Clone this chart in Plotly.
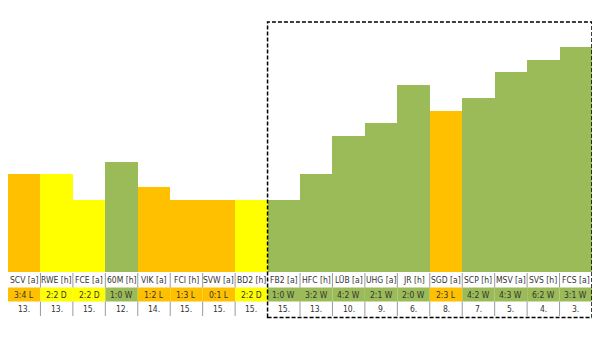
import plotly.graph_objects as go

# ---- data ----
teams = ["SCV [a]", "RWE [h]", "FCE [a]", "60M [h]", "VIK [a]", "FCI [h]", "SVW [a]", "BD2 [h]",
         "FB2 [a]", "HFC [h]", "LÜB [a]", "UHG [a]", "JR [h]", "SGD [a]", "SCP [h]", "MSV [a]",
         "SVS [h]", "FCS [a]"]
scores = ["3:4", "2:2", "2:2", "1:0", "1:2", "1:3", "0:1", "2:2",
          "1:0", "3:2", "4:2", "2:1", "2:0", "2:3", "4:2", "4:3", "6:2", "3:1"]
outcomes = ["L", "D", "D", "W", "L", "L", "L", "D",
            "W", "W", "W", "W", "W", "L", "W", "W", "W", "W"]
ranks = [13, 13, 15, 12, 14, 15, 15, 15,
         15, 13, 10, 9, 6, 8, 7, 5, 4, 3]

# ---- style ----
COLORS = {"W": "#9BBB59", "D": "#FFFF00", "L": "#FFC000"}
BASE = 20.65          # rank level at the bottom of the bar area
TOP = 1.04            # rank level at the top of the bar area
SPLIT = 8             # dashed box starts at this category
TEXT = "#333333"
FONT = "DejaVu Sans Condensed, Liberation Sans, Arial"
FS = 8.5

n = len(teams)
xs = list(range(n))
colors = [COLORS[o] for o in outcomes]

fig = go.Figure()
fig.add_trace(go.Bar(
    x=xs, y=[r - BASE for r in ranks], base=BASE,
    marker=dict(color=colors, line=dict(width=0)),
    width=1.0, hoverinfo="skip", showlegend=False,
))

# table rows (paper coordinates, below the plot area)
row_label = (-0.004, -0.062)
row_res = (-0.062, -0.118)
row_rank = (-0.118, -0.176)

shapes = []
annotations = []
for i in xs:
    shapes.append(dict(type="rect", xref="x", yref="paper", x0=i - 0.5, x1=i + 0.5,
                       y0=row_res[1], y1=row_res[0], fillcolor=colors[i],
                       line=dict(width=0), layer="below"))
    annotations.append(dict(x=i, y=sum(row_label) / 2, xref="x", yref="paper", text=teams[i],
                            showarrow=False, font=dict(size=FS, color=TEXT, family=FONT),
                            xanchor="center", yanchor="middle"))
    annotations.append(dict(x=i, y=sum(row_res) / 2, xref="x", yref="paper",
                            text=f"{scores[i]} {outcomes[i]}",
                            showarrow=False, font=dict(size=FS, color=TEXT, family=FONT),
                            xanchor="center", yanchor="middle"))
    annotations.append(dict(x=i, y=sum(row_rank) / 2, xref="x", yref="paper", text=f"{ranks[i]}.",
                            showarrow=False, font=dict(size=FS, color=TEXT, family=FONT),
                            xanchor="center", yanchor="middle"))

# separators between cells
for i in range(n - 1):
    if i + 1 == SPLIT:
        continue
    for (a, b) in (row_label, row_rank):
        shapes.append(dict(type="line", xref="x", yref="paper", x0=i + 0.5, x1=i + 0.5,
                           y0=b, y1=a, line=dict(color="#9A9A9A", width=1)))

# dashed box around the second part
shapes.append(dict(type="rect", xref="x", yref="paper", x0=SPLIT - 0.5, x1=n - 0.5,
                   y0=row_rank[1] - 0.006, y1=1.0,
                   line=dict(color="#000000", width=1.5, dash="4px,2px"), fillcolor="rgba(0,0,0,0)"))

fig.update_layout(
    width=600, height=338,
    margin=dict(l=8, r=8, t=22, b=66),
    paper_bgcolor="white", plot_bgcolor="white",
    bargap=0,
    xaxis=dict(range=[-0.5, n - 0.5], showticklabels=False, showgrid=False, zeroline=False,
               showline=False, ticks=""),
    yaxis=dict(range=[BASE, TOP], showticklabels=False, showgrid=False, zeroline=False,
               showline=False, ticks=""),
    shapes=shapes, annotations=annotations,
    showlegend=False,
)

fig.write_html("out.html")
